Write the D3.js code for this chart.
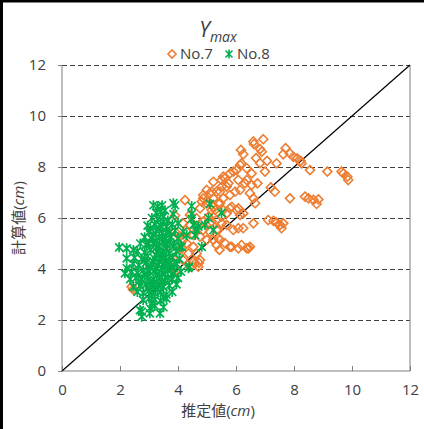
<!DOCTYPE html>
<html>
<head>
<meta charset="utf-8">
<script src="https://cdn.jsdelivr.net/npm/d3@7"></script>
<style>
  body { margin: 0; background: #fff; }
  text { font-family: "Open Sans", "Noto Sans CJK JP", sans-serif; fill: #404040; }
  .gridline line { stroke: #404040; stroke-dasharray: 5,3; }
  .gridline path { stroke: none; }
</style>
</head>
<body>
<div id="chart"></div>
<script>
// tick labels
var tickValues = [0, 2, 4, 6, 8, 10, 12];
var seriesNames = ["No.7", "No.8"];

// No.7 [estimated, calculated]
var no7 = [
  [6.94,9.09],[6.62,8.9],[6.17,8.67],[6.25,8.5],[6.83,8.7],[6.89,8.6],[6.19,8.14],[6.69,8.35],
  [6.83,8.15],[7.07,8.24],[7.4,8.14],[7.71,8.74],[7.63,8.5],[7.86,8.53],[7.98,8.4],[8.11,8.34],
  [8.23,8.24],[8.26,8.14],[8.55,7.88],[9.15,7.82],[9.64,7.82],[9.7,7.75],[9.84,7.62],[9.87,7.49],
  [5.91,7.82],[6.37,7.95],[6.54,7.75],[7.0,7.82],[5.56,7.62],[5.5,7.49],[5.22,7.42],[6.08,7.49],
  [6.37,7.49],[6.54,7.29],[6.74,7.36],[7.2,7.2],[7.34,7.03],[7.86,6.77],[8.38,6.84],[8.5,6.77],
  [8.67,6.71],[8.84,6.73],[8.78,6.55],[5.16,7.03],[5.45,7.03],[5.68,7.23],[5.79,6.9],[6.14,7.1],
  [6.48,6.97],[6.6,6.77],[6.66,6.58],[4.87,6.77],[4.99,6.58],[5.22,6.44],[5.45,6.58],[5.56,6.31],
  [5.79,6.38],[6.08,6.38],[6.14,6.12],[6.08,5.6],[6.6,5.79],[7.11,5.92],[7.29,5.89],[7.4,5.82],
  [7.52,5.73],[7.63,5.79],[7.57,5.6],[5.85,4.87],[6.08,4.81],[6.19,4.94],[6.43,4.81],[6.48,4.87],
  [5.45,5.14],[5.43,4.75],[5.39,5.53],[5.1,5.79],[5.33,5.92],[5.5,6.05],[4.41,6.12],[4.76,6.38],
  [5.05,6.05],[5.16,6.31],[5.62,7.56],[5.79,7.75],[6.02,7.88],[6.14,8.08],[5.74,7.36],[5.51,7.23],
  [5.33,7.03],[5.1,6.97],[4.99,7.1],[4.87,6.9],[4.82,6.64],[5.05,6.64],[5.22,6.77],[5.39,6.58],
  [5.56,6.77],[5.97,7.03],[6.31,7.36],[5.85,6.44],[6.02,6.31],[6.25,6.18],[5.68,6.18],[5.28,6.31],
  [4.64,5.99],[4.87,5.86],[5.16,5.86],[5.51,5.79],[5.68,5.73],[5.91,5.53],[6.25,5.6],[5.33,5.53],
  [5.1,5.46],[4.87,5.53],[4.64,5.66],[4.41,5.73],[4.18,5.79],[4.3,5.46],[4.53,5.33],[4.76,5.27],
  [4.99,5.14],[5.22,5.14],[5.39,5.2],[5.62,5.01],[5.33,4.94],[5.79,4.87],[6.37,4.81],[4.53,4.87],
  [4.3,5.01],[4.18,5.14],[4.13,4.81],[4.36,4.61],[4.64,4.61],[4.76,4.35],[4.7,4.09],[4.53,4.29],
  [4.41,4.09],[4.18,4.35],[4.01,4.55],[4.07,5.27],[3.9,5.46],[2.4,3.3],[2.45,3.2],[3.95,3.96],
  [4.59,4.22],[4.72,4.24],[3.7,4.9],[3.8,4.3],[3.6,5.2],[3.9,6.1],[4.24,6.7],[6.6,9.0]
];

// No.8 [estimated, calculated]
var no8 = [
  [3.15,6.5],[3.3,6.45],[3.45,6.5],[3.9,6.5],[3.84,6.58],[4.47,6.47],[5.1,6.55],[3.25,6.2],
  [3.4,6.25],[3.55,6.3],[3.84,6.15],[4.47,6.15],[3.1,6.0],[3.3,5.95],[3.5,6.05],[3.65,5.9],
  [5.5,6.2],[5.05,6.0],[4.47,5.97],[2.95,5.7],[3.2,5.75],[3.4,5.7],[3.6,5.65],[3.8,5.75],
  [4.0,5.8],[4.53,5.73],[4.93,5.73],[4.7,5.66],[3.0,5.45],[3.25,5.5],[3.45,5.4],[3.7,5.45],
  [3.9,5.5],[4.18,5.46],[4.64,5.53],[5.22,5.53],[2.85,5.25],[3.1,5.2],[3.35,5.25],[3.55,5.15],
  [3.75,5.25],[4.0,5.2],[4.3,5.33],[4.59,5.33],[2.46,4.75],[1.97,4.85],[2.7,5.0],[2.9,4.95],
  [3.15,5.0],[3.35,4.9],[3.6,4.95],[3.85,5.0],[4.13,4.87],[4.07,4.87],[4.82,4.87],[2.23,4.81],
  [2.6,4.7],[2.85,4.65],[3.05,4.75],[3.3,4.65],[3.5,4.7],[3.7,4.6],[3.95,4.7],[2.23,4.42],
  [2.5,4.45],[2.75,4.4],[2.95,4.5],[3.2,4.4],[3.4,4.45],[3.6,4.35],[3.8,4.45],[4.05,4.4],
  [2.23,4.03],[2.45,4.2],[2.65,4.15],[2.9,4.25],[3.1,4.2],[3.3,4.15],[3.5,4.2],[3.75,4.1],
  [3.95,4.2],[4.36,4.03],[4.39,4.09],[2.17,3.83],[2.4,3.9],[2.6,3.85],[2.8,3.95],[3.0,3.9],
  [3.2,3.95],[3.45,3.85],[3.65,3.95],[3.85,3.8],[4.1,3.9],[2.35,3.6],[2.55,3.65],[2.75,3.6],
  [2.95,3.7],[3.15,3.6],[3.35,3.65],[3.55,3.55],[3.8,3.6],[4.0,3.65],[2.46,3.3],[2.7,3.35],
  [2.9,3.4],[3.1,3.3],[3.3,3.4],[3.5,3.3],[3.7,3.35],[3.95,3.4],[2.6,3.1],[2.8,3.05],
  [3.0,3.15],[3.2,3.05],[3.4,3.1],[3.6,3.0],[3.8,3.1],[2.8,2.78],[3.0,2.85],[3.2,2.8],
  [3.4,2.75],[3.6,2.85],[2.69,2.39],[2.75,2.33],[3.03,2.46],[3.2,2.55],[3.38,2.26],[3.03,2.26],
  [2.75,2.13],[3.5,2.5],[3.25,4.55],[3.45,4.05],[3.05,3.5],[3.6,4.8],[2.95,4.1],[3.35,5.6],
  [3.5,2.9],[3.1,2.65],[3.7,5.05],[3.15,5.35],[3.0,5.0],[3.25,4.85],[3.45,4.6],[3.55,4.45],
  [3.15,4.3],[3.35,4.3],[2.85,4.35],[3.65,4.15],[3.25,4.0],[3.05,4.05],[3.55,3.8],[2.85,3.8],
  [3.25,3.75],[3.45,3.5],[2.65,3.5],[3.15,3.45],[3.65,3.65],[2.95,3.25],[3.3,3.2],[3.1,2.95],
  [3.7,4.3],[3.85,4.9],[3.45,5.05],[3.25,5.1],[3.6,5.45],[3.05,5.6],[3.5,5.85],[3.85,4.05]
];

var orange = "#ED7D31", green = "#00B050";

var W = 424, H = 429;
var margin = {top: 65, right: 14, bottom: 58, left: 62},
    width = W - margin.left - margin.right,
    height = H - margin.top - margin.bottom;

var root = d3.select("#chart").append("svg")
    .attr("width", W)
    .attr("height", H);

// outer frame (black on top / left like the screenshot)
root.append("line").attr("x1", 0).attr("x2", W).attr("y1", 1).attr("y2", 1)
    .style("stroke", "#000").style("stroke-width", 3);
root.append("line").attr("x1", 1.5).attr("x2", 1.5).attr("y1", 0).attr("y2", H)
    .style("stroke", "#000").style("stroke-width", 3);

var svg = root.append("g")
    .attr("transform", "translate(" + margin.left + "," + margin.top + ")");

var xScale = d3.scaleLinear().domain([0, 12]).range([0, width]);
var yScale = d3.scaleLinear().domain([0, 12]).range([height, 0]);

// y gridlines (dashed)
svg.append("g")
    .attr("class", "gridline")
    .call(d3.axisLeft(yScale)
        .tickValues(tickValues.slice(1))
        .tickSize(-width)
        .tickFormat(""));

// plot frame: left, bottom, right solid
svg.append("path")
    .attr("d", "M0,0V" + height + "H" + width + "V0")
    .style("fill", "none")
    .style("stroke", "#7f7f7f")
    .style("stroke-width", 1);

// x axis, ticks inside
var xAxis = svg.append("g")
    .attr("transform", "translate(0," + height + ")")
    .call(d3.axisBottom(xScale).tickValues(tickValues).tickSizeInner(-5).tickSizeOuter(0).tickPadding(13));
xAxis.select(".domain").remove();
xAxis.selectAll("line").style("stroke", "#7f7f7f");
xAxis.selectAll("text").style("font-size", "15px").style("fill", "#404040");

// y axis, ticks outside
var yAxis = svg.append("g")
    .call(d3.axisLeft(yScale).tickValues(tickValues).tickSizeInner(4).tickSizeOuter(0).tickPadding(12));
yAxis.select(".domain").remove();
yAxis.selectAll("line").style("stroke", "#7f7f7f");
yAxis.selectAll("text").style("font-size", "15px").style("fill", "#404040");

// 1:1 line
svg.append("path")
    .datum([[0, 0], [12, 12]])
    .attr("d", d3.line().x(function(d) { return xScale(d[0]); }).y(function(d) { return yScale(d[1]); }))
    .style("stroke", "#000")
    .style("stroke-width", 1.2)
    .style("fill", "none");

// markers
var diamond = "M0,-4.5L4.5,0L0,4.5L-4.5,0Z";
var star = "M-4,-4L4,4M-4,4L4,-4M0,-5V5";

svg.append("g").selectAll("path")
    .data(no7)
    .enter().append("path")
    .attr("transform", function(d) { return "translate(" + xScale(d[0]) + "," + yScale(d[1]) + ")"; })
    .attr("d", diamond)
    .style("fill", "none")
    .style("stroke", orange)
    .style("stroke-width", 1.6);

svg.append("g").selectAll("path")
    .data(no8)
    .enter().append("path")
    .attr("transform", function(d) { return "translate(" + xScale(d[0]) + "," + yScale(d[1]) + ")"; })
    .attr("d", star)
    .style("fill", "none")
    .style("stroke", green)
    .style("stroke-width", 1.7);

// title
var title = root.append("text")
    .attr("x", 218)
    .attr("y", 37)
    .attr("text-anchor", "middle")
    .style("font-style", "italic")
    .style("fill", "#404040");
title.append("tspan").style("font-size", "21px").text("Y");
title.append("tspan").style("font-size", "14px").attr("dy", 5).text("max");

// legend
var legend = root.append("g").attr("transform", "translate(0,54)");
legend.append("path").attr("transform", "translate(172,0)").attr("d", "M0,-4L4,0L0,4L-4,0Z")
    .style("fill", "none").style("stroke", orange).style("stroke-width", 1.6);
legend.append("text").attr("x", 180).attr("y", 5).style("font-size", "15px").text(seriesNames[0]);
legend.append("path").attr("transform", "translate(229,0)").attr("d", "M-3.5,-3.5L3.5,3.5M-3.5,3.5L3.5,-3.5M0,-4.5V4.5")
    .style("fill", "none").style("stroke", green).style("stroke-width", 1.6);
legend.append("text").attr("x", 237).attr("y", 5).style("font-size", "15px").text(seriesNames[1]);

// axis titles
var xt = root.append("text")
    .attr("x", 218)
    .attr("y", 416)
    .attr("text-anchor", "middle")
    .style("font-size", "15px");
xt.append("tspan").text("推定値(");
xt.append("tspan").style("font-style", "italic").text("cm");
xt.append("tspan").text(")");

var yt = root.append("text")
    .attr("transform", "translate(24,218) rotate(-90)")
    .attr("text-anchor", "middle")
    .style("font-size", "15px");
yt.append("tspan").text("計算値(");
yt.append("tspan").style("font-style", "italic").text("cm");
yt.append("tspan").text(")");
</script>
</body>
</html>
